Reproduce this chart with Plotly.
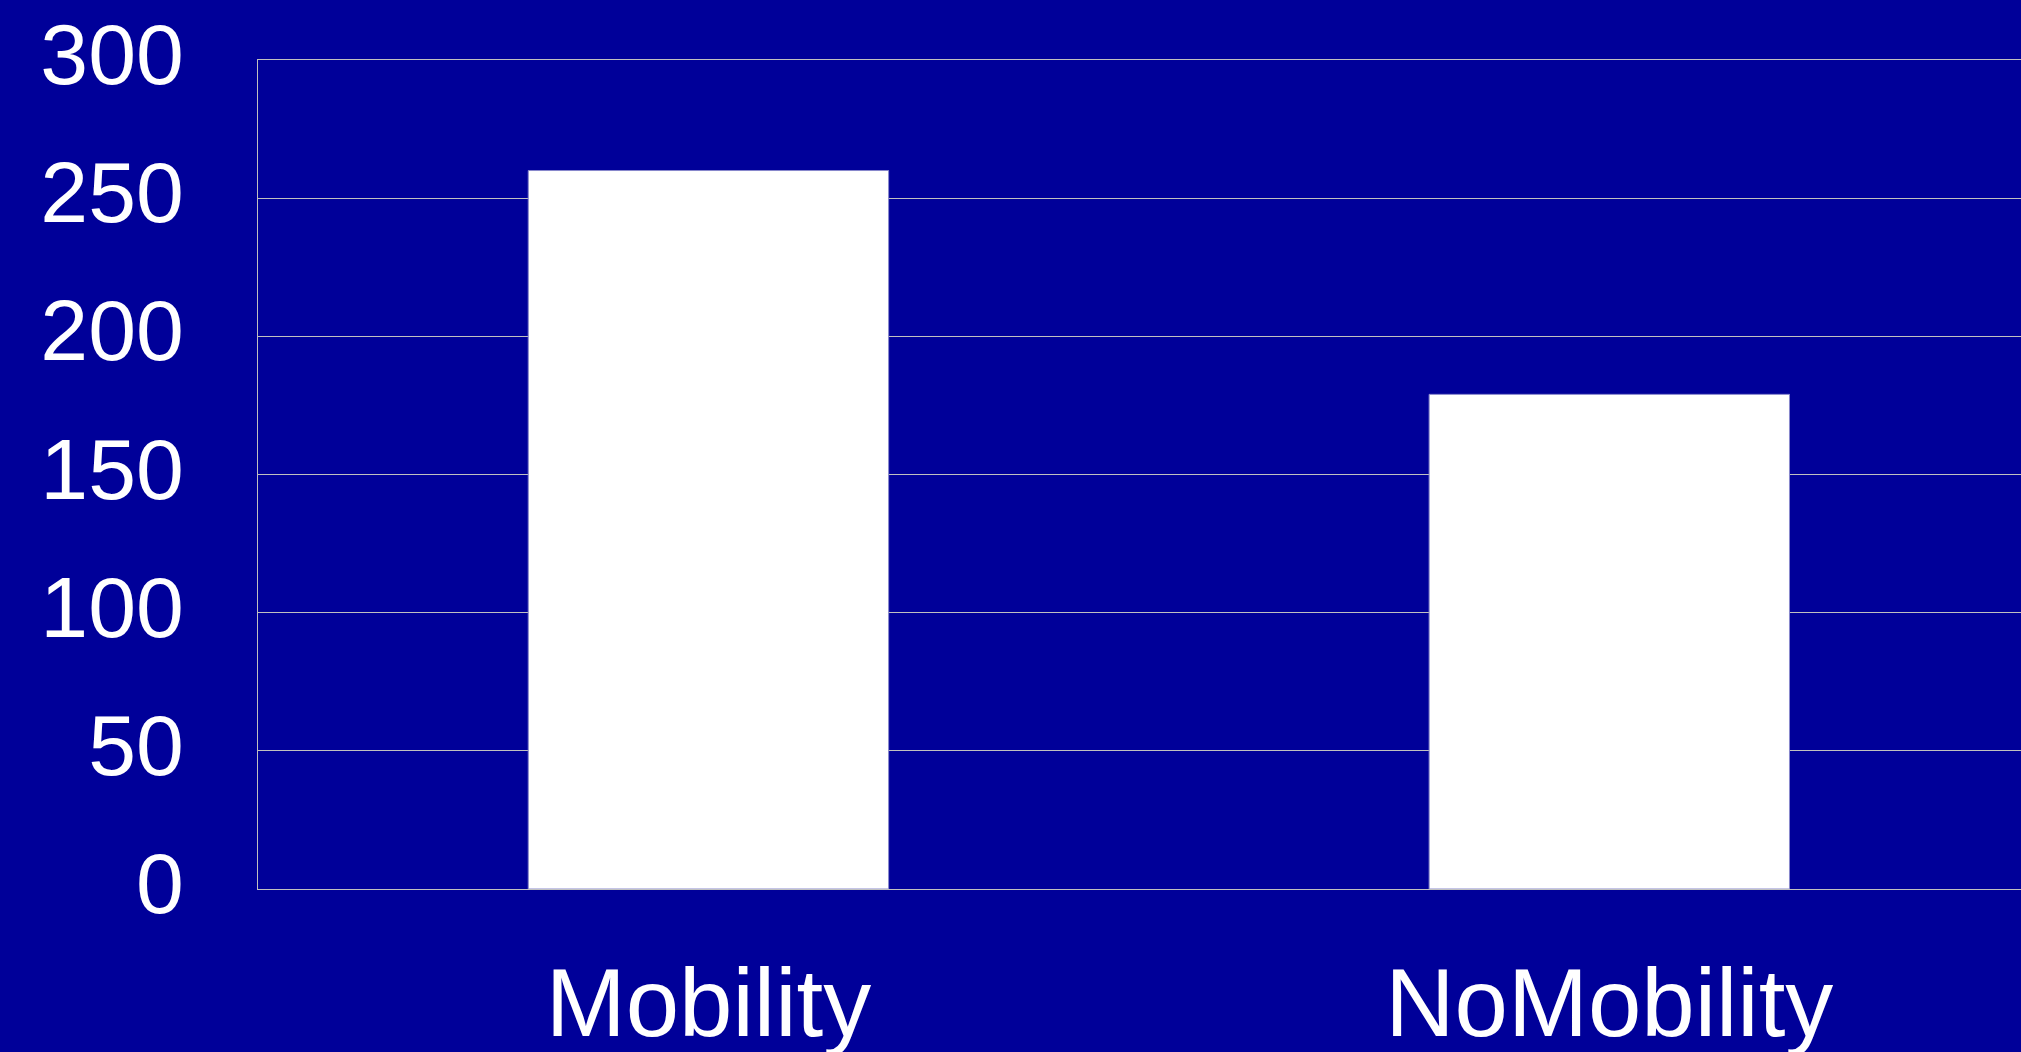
import plotly.graph_objects as go

categories = ["Mobility", "NoMobility"]
values = [260, 179]
y_ticks = [0, 50, 100, 150, 200, 250, 300]

BG = "#000099"
GRID = "#c0c0c0"

fig = go.Figure(
    go.Bar(
        x=categories,
        y=values,
        width=0.4,
        marker=dict(color="#ffffff", line=dict(color="#8888cc", width=1)),
    )
)

fig.update_layout(
    width=2021,
    height=1052,
    margin=dict(l=258, r=0, t=60, b=163),
    paper_bgcolor=BG,
    plot_bgcolor=BG,
    showlegend=False,
    font=dict(family="Liberation Sans, Arial, sans-serif", color="#ffffff"),
)

fig.update_xaxes(
    range=[-0.5, 1.457],
    showgrid=False,
    showline=True,
    mirror=True,
    linecolor=GRID,
    linewidth=1,
    ticks="",
    tickfont=dict(size=96, color="#ffffff"),
    ticklabelstandoff=31,
    zeroline=False,
    automargin=False,
)

fig.update_yaxes(
    range=[0, 300],
    tickvals=y_ticks,
    ticktext=[str(v) for v in y_ticks],
    showgrid=True,
    gridcolor=GRID,
    gridwidth=1,
    showline=True,
    linecolor=GRID,
    linewidth=1,
    ticks="",
    tickfont=dict(size=86, color="#ffffff"),
    ticklabelstandoff=56,
    ticklabelshift=-6,
    zeroline=False,
    automargin=False,
)

fig.write_html("out.html")
